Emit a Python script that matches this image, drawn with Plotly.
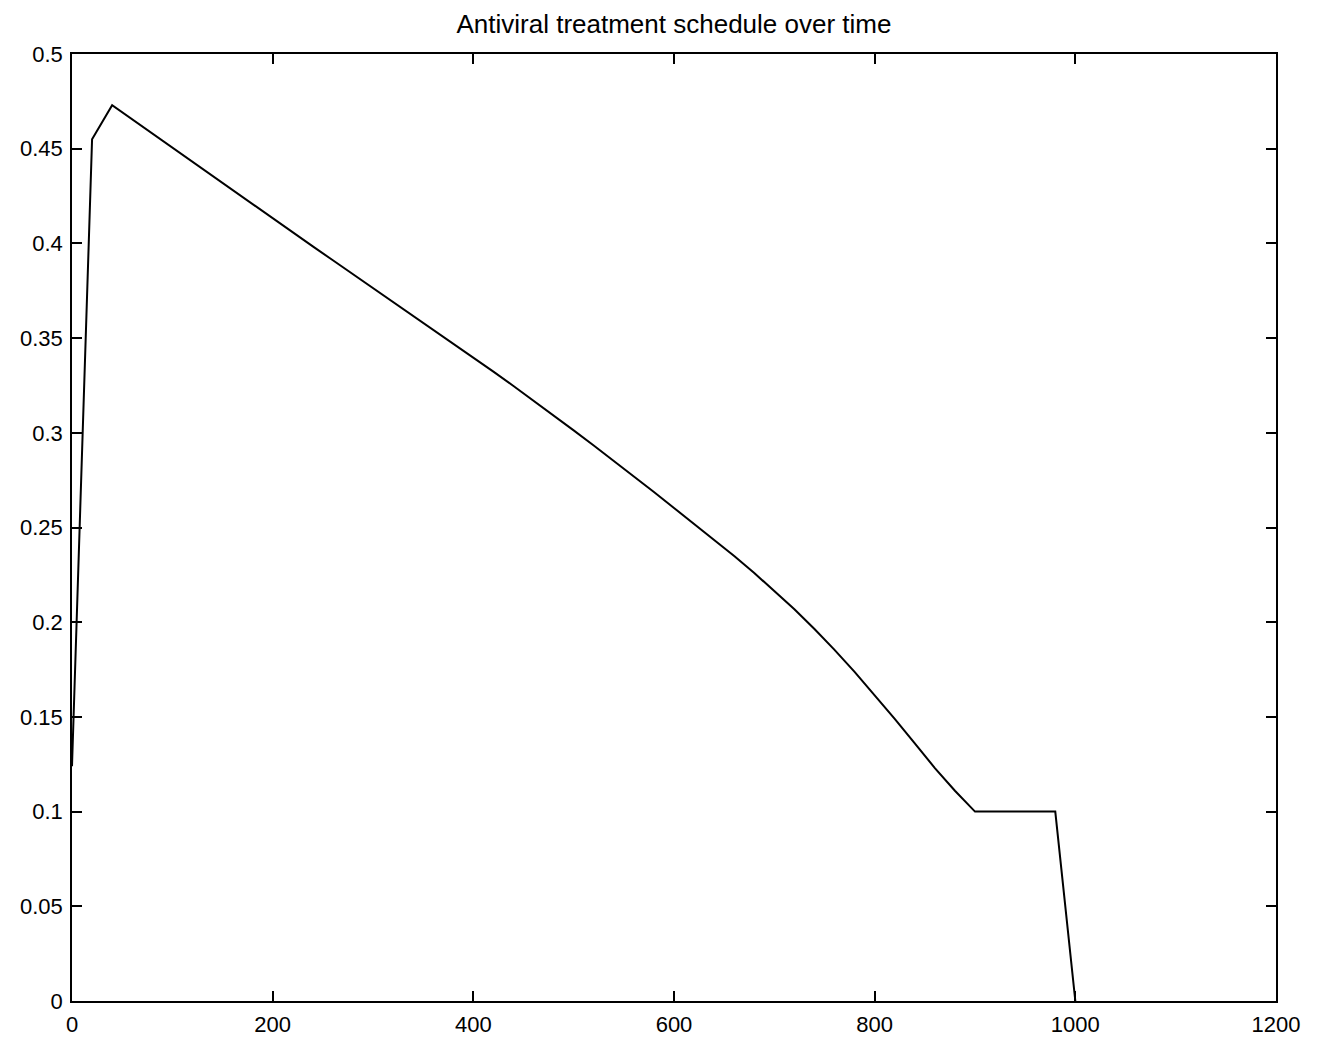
import plotly.graph_objects as go

# Time (days) and treatment level
time_days = [0, 20, 40, 60, 80, 100, 120, 140, 160, 180, 200, 220, 240, 260, 280,
             300, 320, 340, 360, 380, 400, 420, 440, 460, 480, 500, 520, 540, 560,
             580, 600, 620, 640, 660, 680, 700, 720, 740, 760, 780, 800, 820, 840,
             860, 880, 900, 980, 1000]
treatment = [0.124, 0.455, 0.473, 0.4655, 0.458, 0.4505, 0.443, 0.4355, 0.4281,
             0.4206, 0.4131, 0.4057, 0.3984, 0.3911, 0.3838, 0.3765, 0.3692,
             0.3619, 0.3546, 0.3472, 0.3398, 0.3323, 0.3247, 0.3170, 0.3092,
             0.3013, 0.2933, 0.2852, 0.2770, 0.2687, 0.2603, 0.2520, 0.2436,
             0.2350, 0.2260, 0.2166, 0.2068, 0.1964, 0.1854, 0.1738, 0.1616,
             0.1490, 0.1360, 0.1230, 0.1110, 0.100, 0.100, 0.0]

x_ticks = [0, 200, 400, 600, 800, 1000, 1200]
y_ticks = [0, 0.05, 0.1, 0.15, 0.2, 0.25, 0.3, 0.35, 0.4, 0.45, 0.5]
y_tick_text = ["0", "0.05", "0.1", "0.15", "0.2", "0.25", "0.3", "0.35", "0.4", "0.45", "0.5"]

FONT = "Liberation Sans, Arial, sans-serif"

fig = go.Figure()
fig.add_trace(go.Scatter(x=time_days, y=treatment, mode="lines",
                         line=dict(color="black", width=2), showlegend=False))

axis_common = dict(showline=True, linecolor="black", linewidth=1.5, mirror="ticks",
                   ticks="inside", ticklen=10, tickwidth=1.5, tickcolor="black",
                   showgrid=False, zeroline=False, automargin=False,
                   tickfont=dict(family=FONT, size=22, color="black"))

fig.update_layout(
    width=1328, height=1042,
    margin=dict(l=72, r=52, t=54, b=41, autoexpand=False),
    paper_bgcolor="white", plot_bgcolor="white",
    title=dict(text="Antiviral treatment schedule over time", x=0.5075, xanchor="center",
               y=1 - 24 / 1042, yanchor="middle", automargin=False,
               font=dict(family=FONT, size=26, color="black")),
    xaxis=dict(range=[0, 1200], tickvals=x_ticks, ticklabelstandoff=3, **axis_common),
    yaxis=dict(range=[0, 0.5], tickvals=y_ticks, ticktext=y_tick_text,
               ticklabelstandoff=3, **axis_common),
)

fig.write_html("out.html")
